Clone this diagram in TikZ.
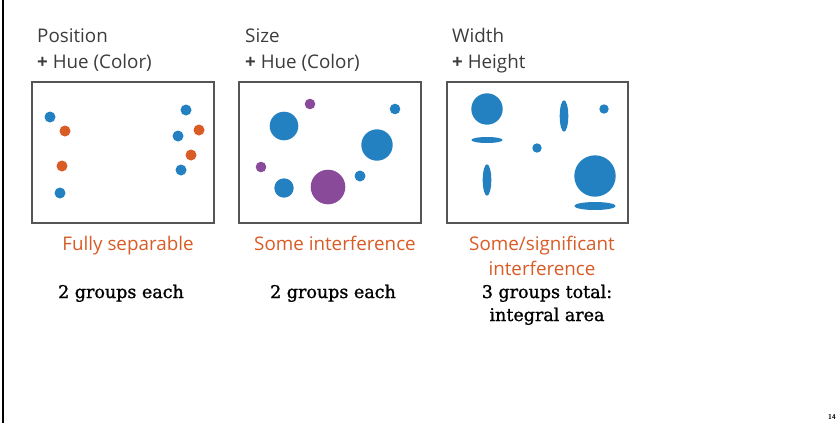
\documentclass[tikz,border=0pt]{standalone}
\usepackage{fontspec}
\setmainfont{Open Sans}
\newfontfamily\slab[FakeBold=1.2]{DejaVu Serif}
\definecolor{dotblue}{HTML}{2381C1}
\definecolor{dotorange}{HTML}{D95B25}
\definecolor{dotpurple}{HTML}{8A4A9A}
\definecolor{titlegray}{HTML}{3C3C3C}
\definecolor{framegray}{HTML}{555555}
\tikzset{
  panel/.style={draw=framegray, line width=1.3pt, fill=white},
  title/.style={anchor=base west, text=titlegray, font=\fontsize{18.8}{22}\selectfont, inner sep=0pt},
  verdict/.style={anchor=base, text=dotorange, font=\fontsize{18.8}{22}\selectfont, inner sep=0pt},
  count/.style={anchor=base, text=black, font=\slab\fontsize{17.5}{20}\selectfont, inner sep=0pt},
  bdot/.style={fill=dotblue, draw=none},
  odot/.style={fill=dotorange, draw=none},
  pdot/.style={fill=dotpurple, draw=none}
}
\begin{document}
\begin{tikzpicture}[x=1pt,y=-1pt]
\useasboundingbox (0,0) rectangle (837,423);
\draw[line width=1.2pt] (3,0) -- (3,423);
% titles
\node[title] (t1a) at (37,42) {Position};
\node[title] (t1b) at (37,68) {\textbf{+} Hue (Color)};
\node[title] (t2a) at (245,42) {Size};
\node[title] (t2b) at (245,68) {\textbf{+} Hue (Color)};
\node[title] (t3a) at (452,42) {Width};
\node[title] (t3b) at (452,68) {\textbf{+} Height};
% panels
\draw[panel] (32,82) rectangle (214,223);
\draw[panel] (239,82) rectangle (421,223);
\draw[panel] (447,82) rectangle (628,223);
% panel 1
\fill[bdot] (50,117) circle (5.5);
\fill[odot] (65,131) circle (5.5);
\fill[odot] (62,166) circle (5.5);
\fill[bdot] (60,193) circle (5.5);
\fill[bdot] (186,110) circle (5.5);
\fill[odot] (199,130) circle (5.5);
\fill[bdot] (178,136) circle (5.5);
\fill[odot] (191,155) circle (5.5);
\fill[bdot] (181,170) circle (5.5);
% panel 2
\fill[pdot] (310,104) circle (5.3);
\fill[bdot] (284,126) circle (14.3);
\fill[bdot] (395,109) circle (5.3);
\fill[bdot] (377,145) circle (15.7);
\fill[pdot] (261,167) circle (5.3);
\fill[bdot] (284,188) circle (9.7);
\fill[pdot] (328,187) circle (17.3);
\fill[bdot] (360,176) circle (5.5);
% panel 3
\fill[bdot] (487,109) circle (15.7);
\fill[bdot] (487,140) ellipse [x radius=15.7, y radius=3];
\fill[bdot] (564,116) ellipse [x radius=4.3, y radius=15.7];
\fill[bdot] (604,109) circle (4.7);
\fill[bdot] (537,148) circle (4.7);
\fill[bdot] (487,180) ellipse [x radius=4.3, y radius=15.7];
\fill[bdot] (595,176) circle (20.7);
\fill[bdot] (595,206) ellipse [x radius=20.7, y radius=4];
% verdicts
\node[verdict] (v1) at (128,250) {Fully separable};
\node[verdict] (v2) at (335,250) {Some interference};
\node[verdict] (v3a) at (542,250) {Some/significant};
\node[verdict] (v3b) at (542,275) {interference};
% counts
\node[count] (c1) at (121,298) {2 groups each};
\node[count] (c2) at (333,298) {2 groups each};
\node[count] (c3a) at (547,298) {3 groups total:};
\node[count] (c3b) at (547,321) {integral area};
% page number
\node[anchor=base west, inner sep=0pt, font=\sffamily\bfseries\fontsize{7}{8}\selectfont] (pg) at (828,419) {14};
\end{tikzpicture}
\end{document}
